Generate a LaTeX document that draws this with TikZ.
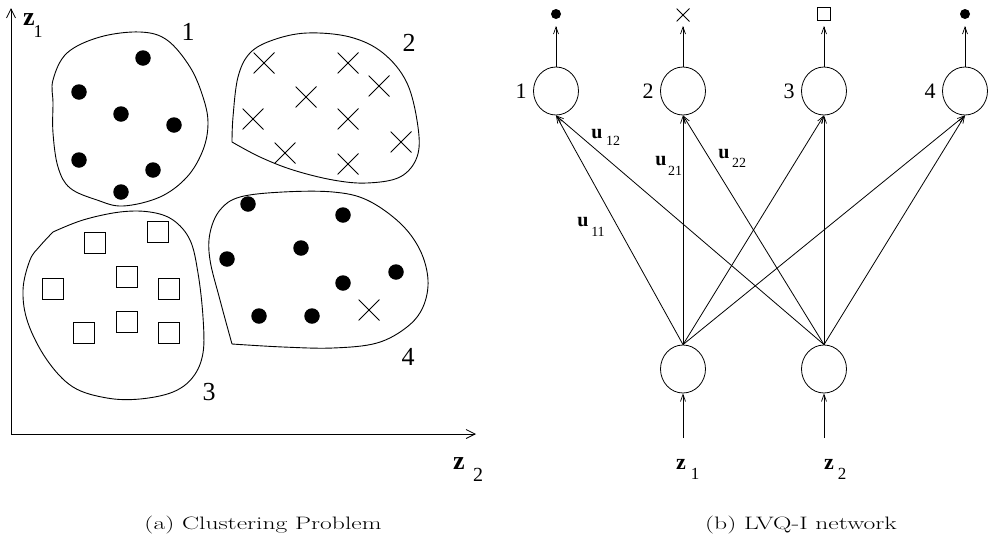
\documentclass[tikz,border=0pt]{standalone}
\usepackage{fontspec}
\usepackage{graphicx}
\newfontfamily\tms{Liberation Serif}
\usetikzlibrary{arrows.meta,shapes.geometric}
\begin{document}
\begin{tikzpicture}[x=1pt,y=-1pt,
  every path/.style={line width=0.8pt},
  blob/.style={line width=0.9pt},
  dotmark/.style={circle,fill=black,inner sep=0pt,minimum size=15.5pt},
  sqmark/.style={draw,line width=0.9pt,inner sep=0pt,minimum size=21pt},
  crossmark/.style={draw=none,inner sep=0pt,minimum size=21pt,
    path picture={\draw[line width=0.9pt] (path picture bounding box.north west)--(path picture bounding box.south east)
      (path picture bounding box.north east)--(path picture bounding box.south west);}},
  lbl/.style={font=\tms\fontsize{26}{26}\selectfont,inner sep=0pt},
  nlbl/.style={font=\tms\fontsize{22}{22}\selectfont,inner sep=0pt},
  neuron/.style={draw,ellipse,minimum width=45pt,minimum height=48pt,inner sep=0pt,line width=0.8pt},
  axtip/.style={-{Straight Barb[length=9pt,width=9pt,line width=0.8pt]}},
  ntip/.style={-{Straight Barb[length=7pt,width=5pt,line width=0.7pt]}},
  captxt/.style={font=\fontsize{18}{18}\selectfont,inner sep=0pt}
]
\useasboundingbox (0,0) rectangle (991,544);
% axes
\coordinate (O) at (11,434);
\coordinate (Ytop) at (11,8);
\coordinate (Xend) at (476,434);
\draw[axtip] (O) -- (Ytop);
\draw[axtip] (O) -- (Xend);
\node[font=\tms\bfseries\fontsize{26}{26}\selectfont,inner sep=0pt] (z1a) at (29,20) {z};
\node[font=\tms\fontsize{18}{18}\selectfont,inner sep=0pt] (z1as) at (38,32) {1};
\node[font=\tms\bfseries\fontsize{26}{26}\selectfont,inner sep=0pt] (z2a) at (459,464) {z};
\node[font=\tms\fontsize{20}{20}\selectfont,inner sep=0pt] (z2as) at (478,475) {2};

% cluster 1
\draw[blob] plot[smooth cycle,tension=0.6] coordinates {(53,80) (67,53) (100,37) (140,32) (167,40) (190,67) (203,97) (208,123) (203,150) (187,177) (160,197) (123,206) (97,200) (70,188) (58,167) (53,133) (53,103)};
\foreach \p [count=\i] in {(143,58),(79,92),(121,114),(174,125),(79,160),(153,170),(121,192)}
  \node[dotmark] (d1\i) at \p {};
\node[lbl] (c1) at (188,32) {1};

% cluster 2
\draw[blob] plot[smooth,tension=0.6] coordinates {(232,142) (233,117) (238,77) (250,53) (273,40) (307,33) (350,37) (383,53) (407,83) (418,127) (417,157) (400,177) (367,183) (333,180) (293,170) (260,157) (232,142)};
\foreach \p [count=\i] in {(264,63),(348,63),(379,86),(306,97),(253,119),(348,119),(401,142),(285,153),(348,164)}
  \node[crossmark] (x2\i) at \p {};
\node[lbl] (c2) at (409,43) {2};

% cluster 3
\draw[blob] plot[smooth,tension=0.6] coordinates {(53,232) (83,220) (120,212) (150,212) (173,220) (190,240) (198,273) (203,317) (203,353) (193,377) (173,392) (140,399) (107,398) (73,387) (47,360) (28,323) (23,290) (30,260) (40,246) (53,232)};
\foreach \p [count=\i] in {(95,243),(158,232),(127,277),(53,289),(169,289),(127,322),(84,333),(169,333)}
  \node[sqmark] (s3\i) at \p {};
\node[lbl] (c3) at (209,392) {3};

% cluster 4
\draw[blob] plot[smooth,tension=0.6] coordinates {(232,344) (220,300) (210,260) (210,233) (220,210) (240,197) (283,192) (333,192) (367,200) (400,223) (420,250) (428,280) (423,307) (407,327) (377,343) (333,348) (283,347) (232,344)};
\foreach \p [count=\i] in {(248,204),(343,215),(301,248),(227,259),(396,272),(343,283),(259,316),(312,316)}
  \node[dotmark] (d4\i) at \p {};
\node[crossmark] (x4) at (369,310) {};
\node[lbl] (c4) at (408,357) {4};

% network
\foreach \x/\n in {556/1,683/2,824/3,965/4} {
  \node[neuron] (t\n) at (\x,91) {};
  \node[nlbl,anchor=east] (tl\n) at ([xshift=-6pt]t\n.west) {\n};
  \coordinate (o\n) at (\x,26);
  \draw[ntip] (t\n.north) -- (o\n);
}
\node[dotmark,minimum size=10pt] (m1) at (556,14) {};
\node[crossmark,minimum size=13pt] (m2) at (683,15) {};
\node[sqmark,minimum size=13pt,line width=0.7pt] (m3) at (824,14) {};
\node[dotmark,minimum size=10pt] (m4) at (965,14) {};

\node[neuron] (b1) at (683,369) {};
\node[neuron] (b2) at (824,369) {};
\foreach \b in {1,2}
  \foreach \t in {1,2,3,4}
    \draw[ntip] (b\b.north) -- (t\t.south);
\coordinate (i1) at (683,438);
\coordinate (i2) at (824,438);
\draw[ntip] (i1) -- (b1.south);
\draw[ntip] (i2) -- (b2.south);
\node[font=\tms\bfseries\fontsize{22}{22}\selectfont,inner sep=0pt] (z1) at (681,464) {z};
\node[font=\tms\fontsize{17}{17}\selectfont,inner sep=0pt] (z1s) at (695,474) {1};
\node[font=\tms\bfseries\fontsize{22}{22}\selectfont,inner sep=0pt] (z2) at (829,464) {z};
\node[font=\tms\fontsize{17}{17}\selectfont,inner sep=0pt] (z2s) at (842,474) {2};

% weight labels
\node[font=\tms\bfseries\fontsize{20}{20}\selectfont,inner sep=0pt] (u12) at (597,134) {u};
\node[font=\tms\fontsize{14}{14}\selectfont,inner sep=0pt] (u12s) at (613,141) {12};
\node[font=\tms\bfseries\fontsize{20}{20}\selectfont,inner sep=0pt] (u21) at (661,161) {u};
\node[font=\tms\fontsize{14}{14}\selectfont,inner sep=0pt] (u21s) at (675,171) {21};
\node[font=\tms\bfseries\fontsize{20}{20}\selectfont,inner sep=0pt] (u22) at (724,154) {u};
\node[font=\tms\fontsize{14}{14}\selectfont,inner sep=0pt] (u22s) at (739,163) {22};
\node[font=\tms\bfseries\fontsize{20}{20}\selectfont,inner sep=0pt] (u11) at (583,222) {u};
\node[font=\tms\fontsize{14}{14}\selectfont,inner sep=0pt] (u11s) at (598,232) {11};

% captions
\node[captxt] (capa) at (263,525) {\scalebox{1.42}[1]{(a) Clustering Problem}};
\node[captxt] (capb) at (801,525) {\scalebox{1.42}[1]{(b) LVQ-I network}};
\end{tikzpicture}
\end{document}
